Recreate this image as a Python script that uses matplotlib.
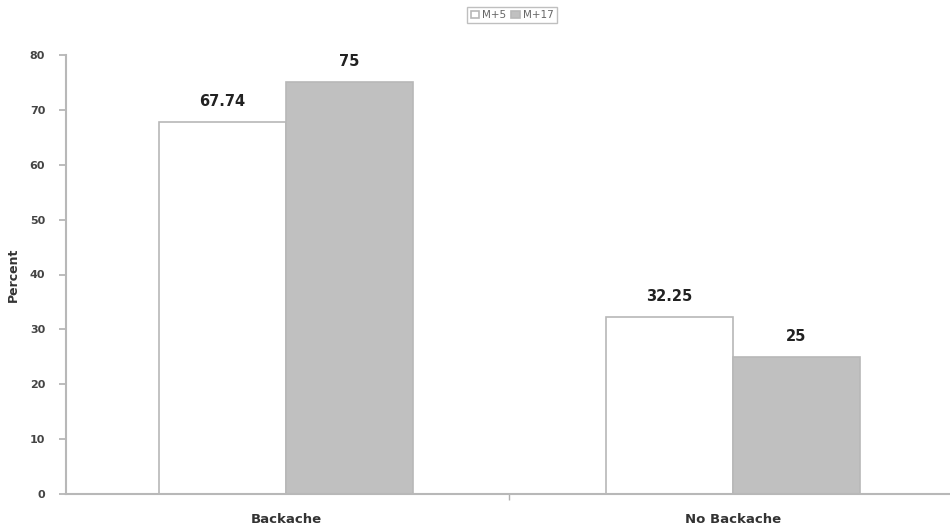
import matplotlib
matplotlib.use("Agg")
import matplotlib.pyplot as plt
import numpy as np

plt.rcParams['font.family'] = ['DejaVu Sans']

# data
categories = ['Backache', 'No Backache']
series_names = ['M+5', 'M+17']
m5_values = [67.74, 32.25]
m17_values = [75, 25]
y_ticks = [0, 10, 20, 30, 40, 50, 60, 70, 80]

fig = plt.figure(figsize=(9.5, 5.29), dpi=100)
x_left = -0.492
ax = fig.add_axes([66 / 950, 1 - 494 / 529, (1.5 - x_left) * 447 / 950,
                   (494 - 55) / 529])

x = np.arange(len(categories))
w = 0.284
b1 = ax.bar(x - w / 2, m5_values, w, color='white', edgecolor='#b8b8b8',
            linewidth=1.2, label=series_names[0])
b2 = ax.bar(x + w / 2, m17_values, w, color='#c0c0c0', edgecolor='#b8b8b8',
            linewidth=1.2, label=series_names[1])

for bars, vals in ((b1, m5_values), (b2, m17_values)):
    for r, v in zip(bars, vals):
        ax.text(r.get_x() + r.get_width() / 2, v + 2.4, '%g' % v,
                ha='center', va='bottom', fontsize=10.5, fontweight='bold',
                color='#222222')

ax.set_xlim(x_left, 1.5)
ax.set_ylim(0, 80)
ax.set_yticks(y_ticks)
ax.set_yticklabels([str(t) for t in y_ticks], fontsize=8, fontweight='bold',
                   color='#444444')
ax.set_xticks(x)
ax.set_xticklabels(categories, fontsize=9.5, fontweight='bold', color='#333333')
ax.tick_params(axis='x', length=0, pad=14)
ax.tick_params(axis='y', length=5, color='#b0b0b0', width=1.2, pad=10)
# category boundary tick
ax.set_xticks([0.5], minor=True)
ax.tick_params(axis='x', which='minor', length=4, color='#b0b0b0', width=1)

for s in ('top', 'right'):
    ax.spines[s].set_visible(False)
for s in ('left', 'bottom'):
    ax.spines[s].set_color('#b8b8b8')
    ax.spines[s].set_linewidth(1.5)

ax.set_ylabel('Percent', fontsize=9, fontweight='bold', color='#333333',
              labelpad=7)

leg = fig.legend(loc='upper center', bbox_to_anchor=(512 / 950, 1 - 7 / 529),
                 ncol=2, fontsize=7.5, frameon=True, fancybox=False,
                 handlelength=0.8, handleheight=0.8, handletextpad=0.3,
                 columnspacing=0.5, borderpad=0.3, borderaxespad=0)
leg.get_frame().set_edgecolor('#b0b0b0')
leg.get_frame().set_linewidth(1)
for t in leg.get_texts():
    t.set_color('#666666')

fig.savefig('out.png', dpi=100)
